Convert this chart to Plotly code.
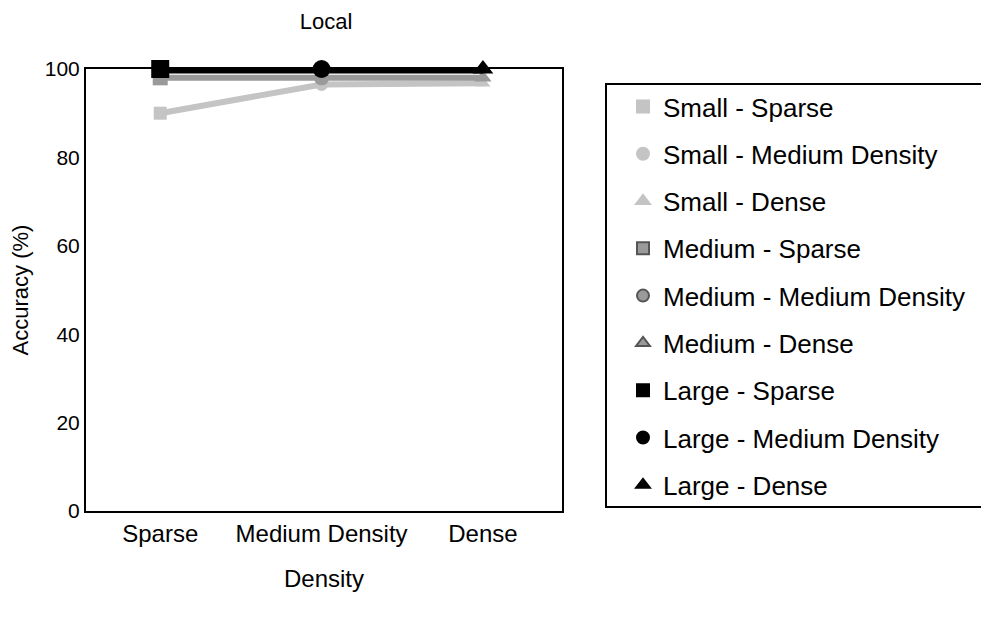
import plotly.graph_objects as go

densities = ["Sparse", "Medium Density", "Dense"]
sizes = ["Small", "Medium", "Large"]
small_acc = [90.0, 96.5, 96.8]
medium_acc = [98.0, 98.0, 98.0]
large_acc = [100.0, 100.0, 100.0]
y_ticks = [0, 20, 40, 60, 80, 100]

size_colors = {"Small": "#c4c4c4", "Medium": "#9a9a9a", "Large": "#000000"}
size_widths = {"Small": 6, "Medium": 6, "Large": 9}
size_marker = {"Small": 13, "Medium": 15, "Large": 18}
density_symbols = {"Sparse": "square", "Medium Density": "circle", "Dense": "triangle-up"}
acc_by_size = {"Small": small_acc, "Medium": medium_acc, "Large": large_acc}

FONT = "Liberation Sans, Arial, Helvetica, sans-serif"

# the page body adds an 8px margin; figure coords = page coords - 8
W, H = 981, 614
L, R, T, B = 78, 554, 61, 503

fig = go.Figure()

for s in sizes:
    fig.add_trace(go.Scatter(
        x=densities, y=acc_by_size[s],
        mode="lines+markers",
        line=dict(color=size_colors[s], width=size_widths[s]),
        marker=dict(symbol=[density_symbols[d] for d in densities],
                    size=size_marker[s], color=size_colors[s]),
        showlegend=False, cliponaxis=False, hoverinfo="skip",
    ))

for s in sizes:
    for d in densities:
        fig.add_trace(go.Scatter(
            x=[None], y=[None], mode="markers",
            name=f"{s} - {d}",
            legendgroup=f"{s}-{d}",
            marker=dict(symbol=density_symbols[d], size=13,
                        color=size_colors[s],
                        line=dict(color="#555555" if s == "Medium" else size_colors[s], width=1)),
        ))

legend_left = 615   # fig px
legend_top = 75     # fig px

fig.update_layout(
    width=W, height=H,
    margin=dict(l=L, r=W - R, t=T, b=H - B, pad=0),
    paper_bgcolor="white", plot_bgcolor="white",
    font=dict(family=FONT, color="black", size=22),
    title=dict(text="Local", x=318 / W, xanchor="center", y=1 - 13 / H, yanchor="middle",
               font=dict(size=22, family=FONT, color="black")),
    showlegend=True,
    legend=dict(
        x=(legend_left - L) / (R - L), xanchor="left",
        y=(B - legend_top) / (B - T), yanchor="top",
        bgcolor="rgba(0,0,0,0)", borderwidth=0,
        font=dict(size=26, family=FONT, color="black"),
        tracegroupgap=10.5, traceorder="grouped",
        itemsizing="constant",
    ),
    xaxis=dict(
        type="category", categoryorder="array", categoryarray=densities,
        range=[-0.46, 2.49],
        showline=True, mirror=True, linecolor="black", linewidth=2,
        showgrid=False, zeroline=False, ticks="",
        tickfont=dict(size=24, family=FONT),
        title=dict(text="Density", font=dict(size=24, family=FONT), standoff=24),
    ),
    yaxis=dict(
        range=[0, 100], tickvals=y_ticks,
        showline=True, mirror=True, linecolor="black", linewidth=2,
        showgrid=False, zeroline=False, ticks="",
        tickfont=dict(size=21, family=FONT),
        title=dict(text="Accuracy (%)", font=dict(size=22, family=FONT), standoff=10),
    ),
    shapes=[dict(type="rect", xref="paper", yref="paper",
                 x0=(598 - L) / (R - L), x1=(1010 - L) / (R - L),
                 y0=(B - 499) / (B - T), y1=(B - 76) / (B - T),
                 line=dict(color="black", width=2), fillcolor="rgba(0,0,0,0)",
                 layer="above")],
)

fig.write_html("out.html")
